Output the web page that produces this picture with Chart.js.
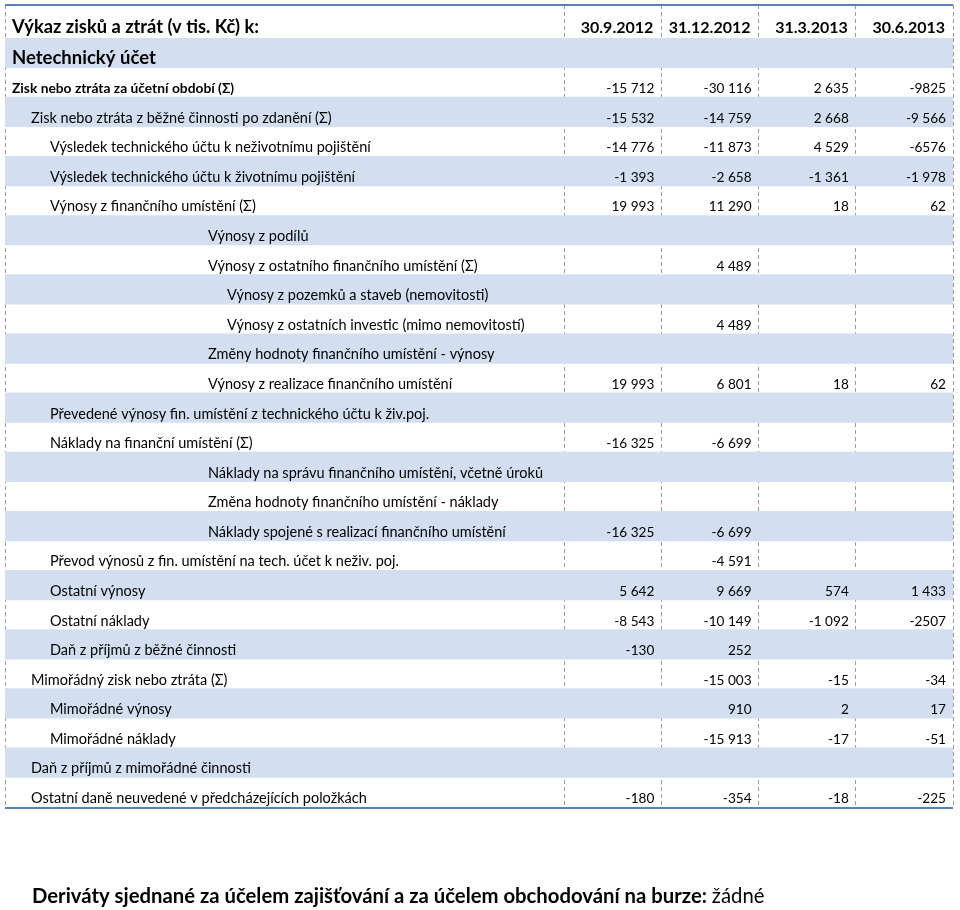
<!DOCTYPE html>
<html>
<head>
<meta charset="utf-8">
<script src="https://cdn.jsdelivr.net/npm/chart.js@4.4.0/dist/chart.umd.min.js"></script>
<style>
  html, body { margin: 0; padding: 0; background: #fff; }
  #wrap { width: 960px; height: 910px; }
</style>
</head>
<body>
<div id="wrap"><canvas id="tableCanvas" width="960" height="910"></canvas></div>
<script>
const headerTitle = "Výkaz zisků a ztrát (v tis. Kč) k:";
const periods = ["30.9.2012", "31.12.2012", "31.3.2013", "30.6.2013"];

const rowLabels = [
  "Netechnický účet",
  "Zisk nebo ztráta za účetní období (Σ)",
  "Zisk nebo ztráta z běžné činnosti po zdanění (Σ)",
  "Výsledek technického účtu k neživotnímu pojištění",
  "Výsledek technického účtu k životnímu pojištění",
  "Výnosy z finančního umístění (Σ)",
  "Výnosy z podílů",
  "Výnosy z ostatního finančního umístění (Σ)",
  "Výnosy z pozemků a staveb (nemovitosti)",
  "Výnosy z ostatních investic (mimo nemovitostí)",
  "Změny hodnoty finančního umístění - výnosy",
  "Výnosy z realizace finančního umístění",
  "Převedené výnosy fin. umístění z technického účtu k živ.poj.",
  "Náklady na finanční umístění (Σ)",
  "Náklady na správu finančního umístění, včetně úroků",
  "Změna hodnoty finančního umístění - náklady",
  "Náklady spojené s realizací finančního umístění",
  "Převod výnosů z fin. umístění na tech. účet k neživ. poj.",
  "Ostatní výnosy",
  "Ostatní náklady",
  "Daň z příjmů z běžné činnosti",
  "Mimořádný zisk nebo ztráta (Σ)",
  "Mimořádné výnosy",
  "Mimořádné náklady",
  "Daň z příjmů z mimořádné činnosti",
  "Ostatní daně neuvedené v předcházejících položkách"
];
const rowLevels = [0, 0, 1, 2, 2, 2, 3, 3, 4, 4, 3, 3, 2, 2, 3, 3, 3, 2, 2, 2, 2, 1, 2, 2, 1, 1];

// one array per period column, null = empty cell
const sep2012 = [null, -15712, -15532, -14776, -1393, 19993, null, null, null, null, null, 19993, null, -16325, null, null, -16325, null, 5642, -8543, -130, null, null, null, null, -180];
const dec2012 = [null, -30116, -14759, -11873, -2658, 11290, null, 4489, null, 4489, null, 6801, null, -6699, null, null, -6699, -4591, 9669, -10149, 252, -15003, 910, -15913, null, -354];
const mar2013 = [null, 2635, 2668, 4529, -1361, 18, null, null, null, null, null, 18, null, null, null, null, null, null, 574, -1092, null, -15, 2, -17, null, -18];
const jun2013 = [null, -9825, -9566, -6576, -1978, 62, null, null, null, null, null, 62, null, null, null, null, null, null, 1433, -2507, null, -34, 17, -51, null, -225];
const columns = [sep2012, dec2012, mar2013, jun2013];

// cells written without the thousands space in the source [row, column]
const ungroupedCells = [[1, 3], [3, 3], [19, 3]];

const footerBold = "Deriváty sjednané za účelem zajišťování a za účelem obchodování na burze:";
const footerValue = "žádné";

const labelSpan = 5.75; // width of the label column, in period-column units
const indentPx = [7, 26, 45, 203, 222];
const fontFamily = "Lato, 'Open Sans', sans-serif";

function formatValue(v, grouped) {
  let s = String(Math.abs(v));
  if (grouped) s = s.replace(/\B(?=(\d{3})+(?!\d))/g, " ");
  return (v < 0 ? "-" : "") + s;
}
function isUngrouped(r, c) {
  return ungroupedCells.some(([a, b]) => a === r && b === c);
}

const tableText = {
  id: "tableText",
  afterDraw(chart) {
    const { ctx, chartArea, scales: { x, y } } = chart;
    const rowH = (chartArea.bottom - chartArea.top) / rowLabels.length;

    ctx.save();
    // top and bottom rules
    ctx.strokeStyle = "#5681b9";
    ctx.lineWidth = 2;
    ctx.beginPath();
    ctx.moveTo(chartArea.left, x.top);
    ctx.lineTo(chartArea.right, x.top);
    ctx.moveTo(chartArea.left, chartArea.bottom + 1);
    ctx.lineTo(chartArea.right, chartArea.bottom + 1);
    ctx.stroke();

    ctx.fillStyle = "#000";
    ctx.textBaseline = "alphabetic";

    // header row
    ctx.textAlign = "left";
    ctx.font = "bold 18.3px " + fontFamily;
    ctx.fillText(headerTitle, chartArea.left + 7, x.bottom - 5);
    ctx.textAlign = "right";
    ctx.font = "bold 16px " + fontFamily;
    periods.forEach((p, c) => {
      ctx.fillText(p, x.getPixelForValue(c + 1) - 8, x.bottom - 5);
    });

    // row labels and values
    rowLabels.forEach((label, r) => {
      const base = y.getPixelForValue(r) + rowH / 2 - 4;
      ctx.textAlign = "left";
      if (r === 0) ctx.font = "bold 18.5px " + fontFamily;
      else if (r === 1) ctx.font = "bold 13.8px " + fontFamily;
      else ctx.font = "14.5px " + fontFamily;
      ctx.fillText(label, chartArea.left + indentPx[rowLevels[r]], base);

      ctx.textAlign = "right";
      ctx.font = "13.6px " + fontFamily;
      columns.forEach((col, c) => {
        const v = col[r];
        if (v === null) return;
        ctx.fillText(formatValue(v, !isUngrouped(r, c)), x.getPixelForValue(c + 1) - 7, base);
      });
    });

    // footer line
    ctx.textAlign = "left";
    ctx.font = "bold 20.3px " + fontFamily;
    const fx = 32, fy = 903;
    ctx.fillText(footerBold, fx, fy);
    const w = ctx.measureText(footerBold + " ").width;
    ctx.font = "20.3px " + fontFamily;
    ctx.fillText(footerValue, fx + w, fy);
    ctx.restore();
  }
};

new Chart(document.getElementById("tableCanvas"), {
  type: "bar",
  data: {
    labels: rowLabels,
    datasets: [{
      label: "bands",
      data: rowLabels.map((_, i) => i % 2 === 0 ? [-labelSpan, periods.length] : null),
      backgroundColor: "#d3dff0",
      borderWidth: 0,
      barPercentage: 1,
      categoryPercentage: 1,
    }]
  },
  options: {
    indexAxis: "y",
    responsive: false,
    animation: false,
    events: [],
    devicePixelRatio: 1,
    layout: { padding: { top: 5, left: 5, right: 7, bottom: 103 } },
    scales: {
      x: {
        type: "linear",
        position: "top",
        min: -labelSpan,
        max: periods.length,
        z: 1,
        afterBuildTicks: scale => {
          scale.ticks = [-labelSpan, 0, 1, 2, 3, 4].map(v => ({ value: v }));
        },
        ticks: { display: false },
        grid: {
          color: "#9c9c9c",
          lineWidth: 1,
          tickLength: 33,
          tickColor: "#9c9c9c",
          tickBorderDash: [4, 3],
        },
        border: { display: false, dash: [4, 3] },
      },
      y: {
        type: "category",
        display: false,
      }
    },
    plugins: {
      legend: { display: false },
      tooltip: { enabled: false },
    }
  },
  plugins: [tableText]
});
</script>
</body>
</html>
